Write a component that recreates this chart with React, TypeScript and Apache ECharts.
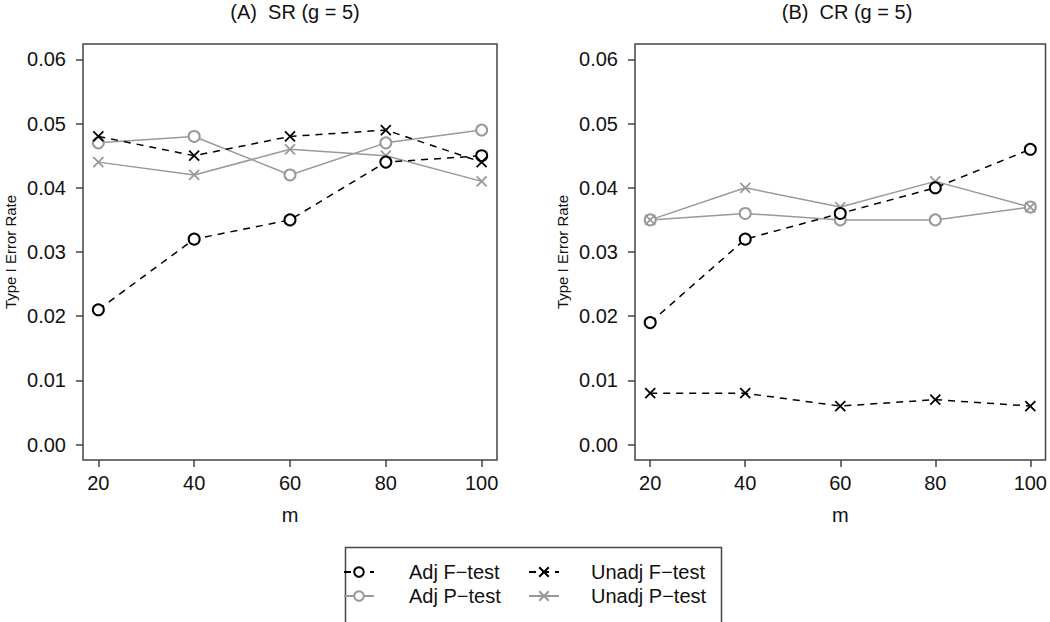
import React, { useEffect, useRef } from "react";
import * as echarts from "echarts";

const mValues = [20, 40, 60, 80, 100];
const yTicks = [0, 0.01, 0.02, 0.03, 0.04, 0.05, 0.06];

// Panel A: SR (g = 5)
const srAdjF = [0.021, 0.032, 0.035, 0.044, 0.045];
const srUnadjF = [0.048, 0.045, 0.048, 0.049, 0.044];
const srAdjP = [0.047, 0.048, 0.042, 0.047, 0.049];
const srUnadjP = [0.044, 0.042, 0.046, 0.045, 0.041];

// Panel B: CR (g = 5)
const crAdjF = [0.019, 0.032, 0.036, 0.040, 0.046];
const crUnadjF = [0.008, 0.008, 0.006, 0.007, 0.006];
const crAdjP = [0.035, 0.036, 0.035, 0.035, 0.037];
const crUnadjP = [0.035, 0.040, 0.037, 0.041, 0.037];

const panelTitles = ["(A)  SR (g = 5)", "(B)  CR (g = 5)"];
const seriesNames = ["Adj F\u2212test", "Unadj F\u2212test", "Adj P\u2212test", "Unadj P\u2212test"];

const FONT = "'Liberation Sans', Arial, Helvetica, sans-serif";
const AXIS_COLOR = "#444";
const BLACK = "#000";
const GRAY = "#999";
const X_SYMBOL = "path://M0,0L10,10M10,0L0,10";

export default function App() {
  const ref = useRef<HTMLDivElement>(null);

  useEffect(() => {
    document.body.style.margin = "0";
    if (!ref.current) return;
    const chart = echarts.init(ref.current, null, { renderer: "svg" });

    const grids = [
      { left: 83, top: 44, width: 414, height: 416 },
      { left: 635, top: 44, width: 413, height: 416 },
    ];

    const xAxes = grids.map((_, i) => ({
      type: "value",
      gridIndex: i,
      min: 16.8,
      max: 103.2,
      name: "m",
      nameLocation: "middle",
      nameGap: 45,
      nameMoveOverlap: false,
      nameTextStyle: { fontSize: 20, color: "#111", fontFamily: FONT },
      axisLine: { show: false, onZero: false },
      splitLine: { show: false },
      axisTick: {
        show: true,
        inside: false,
        length: 7,
        customValues: mValues,
        lineStyle: { color: AXIS_COLOR, width: 1.5 },
      },
      axisLabel: {
        customValues: mValues,
        fontSize: 20,
        color: "#111",
        fontFamily: FONT,
        margin: 13,
      },
    }));

    const yAxes = grids.map((_, i) => ({
      type: "value",
      gridIndex: i,
      min: -0.0024,
      max: 0.0624,
      name: "Type I Error Rate",
      nameLocation: "middle",
      nameRotate: 90,
      nameGap: 65,
      nameMoveOverlap: false,
      nameTextStyle: { fontSize: 15, color: "#111", fontFamily: FONT },
      axisLine: { show: false, onZero: false },
      splitLine: { show: false },
      axisTick: {
        show: true,
        inside: false,
        length: 7,
        customValues: yTicks,
        lineStyle: { color: AXIS_COLOR, width: 1.5 },
      },
      axisLabel: {
        customValues: yTicks,
        fontSize: 20,
        color: "#111",
        fontFamily: FONT,
        margin: 17,
        formatter: (v: number) => v.toFixed(2),
      },
    }));

    const toPts = (arr: number[]) => mValues.map((m, i) => [m, arr[i]]);

    const makeSeries = (
      name: string,
      data: number[],
      idx: number,
      color: string,
      dashed: boolean,
      cross: boolean
    ) => ({
      type: "line",
      name,
      xAxisIndex: idx,
      yAxisIndex: idx,
      data: toPts(data),
      symbol: cross ? X_SYMBOL : "emptyCircle",
      symbolSize: cross ? 10 : 11,
      showSymbol: true,
      lineStyle: { color, width: 1.5, type: dashed ? [7, 6] : "solid" },
      itemStyle: cross
        ? { color: "none", borderColor: color, borderWidth: 1.8 }
        : { color, borderColor: color, borderWidth: 1.5 },
      z: dashed ? 3 : 2,
    });

    const panelData = [
      [srAdjF, srUnadjF, srAdjP, srUnadjP],
      [crAdjF, crUnadjF, crAdjP, crUnadjP],
    ];

    const series: any[] = [];
    panelData.forEach((arrs, p) => {
      series.push(makeSeries(seriesNames[2], arrs[2], p, GRAY, false, false));
      series.push(makeSeries(seriesNames[3], arrs[3], p, GRAY, false, true));
      series.push(makeSeries(seriesNames[0], arrs[0], p, BLACK, true, false));
      series.push(makeSeries(seriesNames[1], arrs[1], p, BLACK, true, true));
    });

    const legendPos = [
      { name: seriesNames[0], left: 343, top: 562, pad: 30 },
      { name: seriesNames[1], left: 528, top: 562, pad: 27 },
      { name: seriesNames[2], left: 343, top: 586, pad: 30 },
      { name: seriesNames[3], left: 528, top: 586, pad: 27 },
    ];

    const legends = legendPos.map((l) => ({
      data: [l.name],
      left: l.left,
      top: l.top,
      padding: 0,
      itemWidth: 30,
      itemHeight: 12,
      selectedMode: false,
      textStyle: {
        fontSize: 20,
        color: "#111",
        fontFamily: FONT,
        padding: [0, 0, 0, l.pad],
      },
    }));

    chart.setOption({
      animation: false,
      backgroundColor: "#fff",
      title: panelTitles.map((t, i) => ({
        text: t,
        left: i === 0 ? 290 : 842,
        top: -3,
        textAlign: "center",
        textStyle: { fontSize: 20, fontWeight: "normal", color: "#111", fontFamily: FONT },
      })),
      grid: grids.map((g) => ({
        ...g,
        show: true,
        borderColor: AXIS_COLOR,
        borderWidth: 1.5,
        backgroundColor: "transparent",
      })),
      xAxis: xAxes,
      yAxis: yAxes,
      legend: legends,
      series,
      graphic: [
        {
          type: "rect",
          left: 343,
          top: 545,
          shape: { width: 376, height: 100 },
          style: { fill: "none", stroke: AXIS_COLOR, lineWidth: 1.5 },
          silent: true,
        },
      ],
    });

    return () => chart.dispose();
  }, []);

  return <div ref={ref} style={{ width: 1050, height: 622 }} />;
}
